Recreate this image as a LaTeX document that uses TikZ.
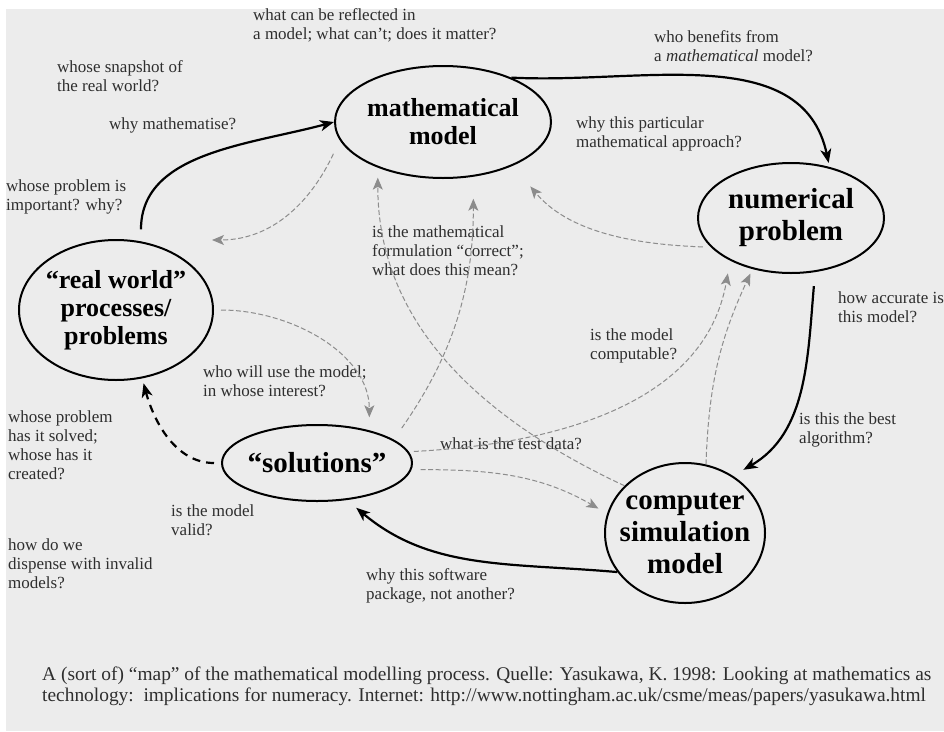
\documentclass[tikz,border=0pt]{standalone}
\usepackage{fontspec}
\setmainfont{Liberation Serif}
\usetikzlibrary{shapes.geometric,arrows.meta}
\definecolor{bg}{HTML}{ECECEC}
\definecolor{txt}{HTML}{2E2E2E}
\definecolor{dashgray}{HTML}{8C8C8C}
\begin{document}
\begin{tikzpicture}[x=1pt,y=-1pt,line join=round,
 q/.style={font=\fontsize{17}{19}\selectfont,text=txt,align=left,anchor=west,inner sep=0pt},
 bub/.style={draw,ellipse,line width=2pt,inner sep=0pt},
 bigA/.style={font=\fontsize{26}{28}\selectfont\bfseries,align=center},
 bigB/.style={font=\fontsize{29}{32}\selectfont\bfseries,align=center},
 main/.style={line width=2.2pt,-{Stealth[length=14pt,width=11pt,inset=4pt]}},
 side/.style={dashgray,line width=1pt,dash pattern=on 5pt off 2.5pt,-{Stealth[length=12pt,width=10pt,inset=3pt]}}]
\fill[white] (0,0) rectangle (944,731);
\fill[bg] (6,9) rectangle (944,731);
\useasboundingbox (0,0) rectangle (944,731);

\node[bub,minimum width=216pt,minimum height=112pt,label={[bigA]center:{mathematical\\model}}] (mm) at (443,122) {};
\node[bub,minimum width=186pt,minimum height=110pt,label={[bigB]center:{numerical\\problem}}] (np) at (791,218) {};
\node[bub,minimum width=194pt,minimum height=140pt,label={[bigA]center:{“real world”\\processes/\\problems}}] (rw) at (116,310) {};
\node[bub,minimum width=190pt,minimum height=76pt,label={[bigB]center:“solutions”}] (sol) at (317,463) {};
\node[bub,minimum width=160pt,minimum height=140pt,label={[bigB]center:{computer\\simulation\\model}}] (csm) at (685,533) {};

\node[q] (q1) at (253,25.5) {what can be reflected in\\a model; what can’t; does it matter?};
\node[q] (q2) at (57,76.5) {whose snapshot of\\the real world?};
\node[q] (q3) at (109,125) {why mathematise?};
\node[q] (q4) at (6,196.5) {whose problem is\\important? why?};
\node[q] (q5) at (654,46.5) {who benefits from\\a \textit{mathematical} model?};
\node[q] (q6) at (576,133.5) {why this particular\\mathematical approach?};
\node[q] (q7) at (372,251) {is the mathematical\\formulation “correct”;\\what does this mean?};
\node[q] (q8) at (838,307.5) {how accurate is\\this model?};
\node[q] (q9) at (590,345.5) {is the model\\computable?};
\node[q] (q10) at (203,381.5) {who will use the model;\\in whose interest?};
\node[q] (q11) at (8,445.5) {whose problem\\has it solved;\\whose has it\\created?};
\node[q] (q12) at (440,444) {what is the test data?};
\node[q] (q13) at (799,429.5) {is this the best\\algorithm?};
\node[q] (q14) at (171,520.5) {is the model\\valid?};
\node[q] (q15) at (8,564) {how do we\\dispense with invalid\\models?};
\node[q] (q16) at (366,585.5) {why this software\\package, not another?};
\node[q,font=\fontsize{19.4}{21}\selectfont] (cap) at (42,686.5) {A (sort of) “map” of the mathematical modelling process. Quelle: Yasukawa, K. 1998: Looking at mathematics as\\technology:\ \ implications for numeracy. Internet: http://www.nottingham.ac.uk/csme/meas/papers/yasukawa.html};

\draw[main,shorten <=12pt] (rw.70) to[out=90,in=195] (mm.180);
\draw[main,shorten >=4pt] (mm.33) to[out=-3,in=102] (np.53);
\draw[main,shorten <=14pt,shorten >=12pt] (np.-66) to[out=-95,in=30] (csm.50);
\draw[main,shorten >=12pt] (csm.210) to[out=175,in=-40] (sol.-51);
\draw[main,dash pattern=on 8pt off 6pt,shorten <=7pt,shorten >=5pt] (sol.west) to[out=180,in=-75] (rw.-69);

\coordinate (rwq) at (212,240);
\draw[side,shorten <=15pt] (mm.190) to[out=-115,in=0] (rwq);
\draw[side,shorten <=8pt,shorten >=27pt] (np.200) to[out=178,in=-50] (mm.-32);
\draw[side,shorten <=7pt,shorten >=13pt] (rw.east) to[out=0,in=90] (sol.32);
\draw[side,shorten <=14pt,shorten >=22pt] (sol.17) to[out=55,in=-90] (mm.-61);
\draw[side,shorten >=10pt] (csm.142) to[out=155,in=-90] (mm.-145);
\draw[side,shorten <=5pt,shorten >=13pt] (sol.7) to[out=3,in=-100] (np.-145);
\draw[side,shorten >=5pt] (csm.73) to[out=88,in=-115] (np.-127);
\draw[side,shorten <=9pt,shorten >=10pt] (sol.-4) to[out=0,in=150] (csm.166);
\end{tikzpicture}
\end{document}
